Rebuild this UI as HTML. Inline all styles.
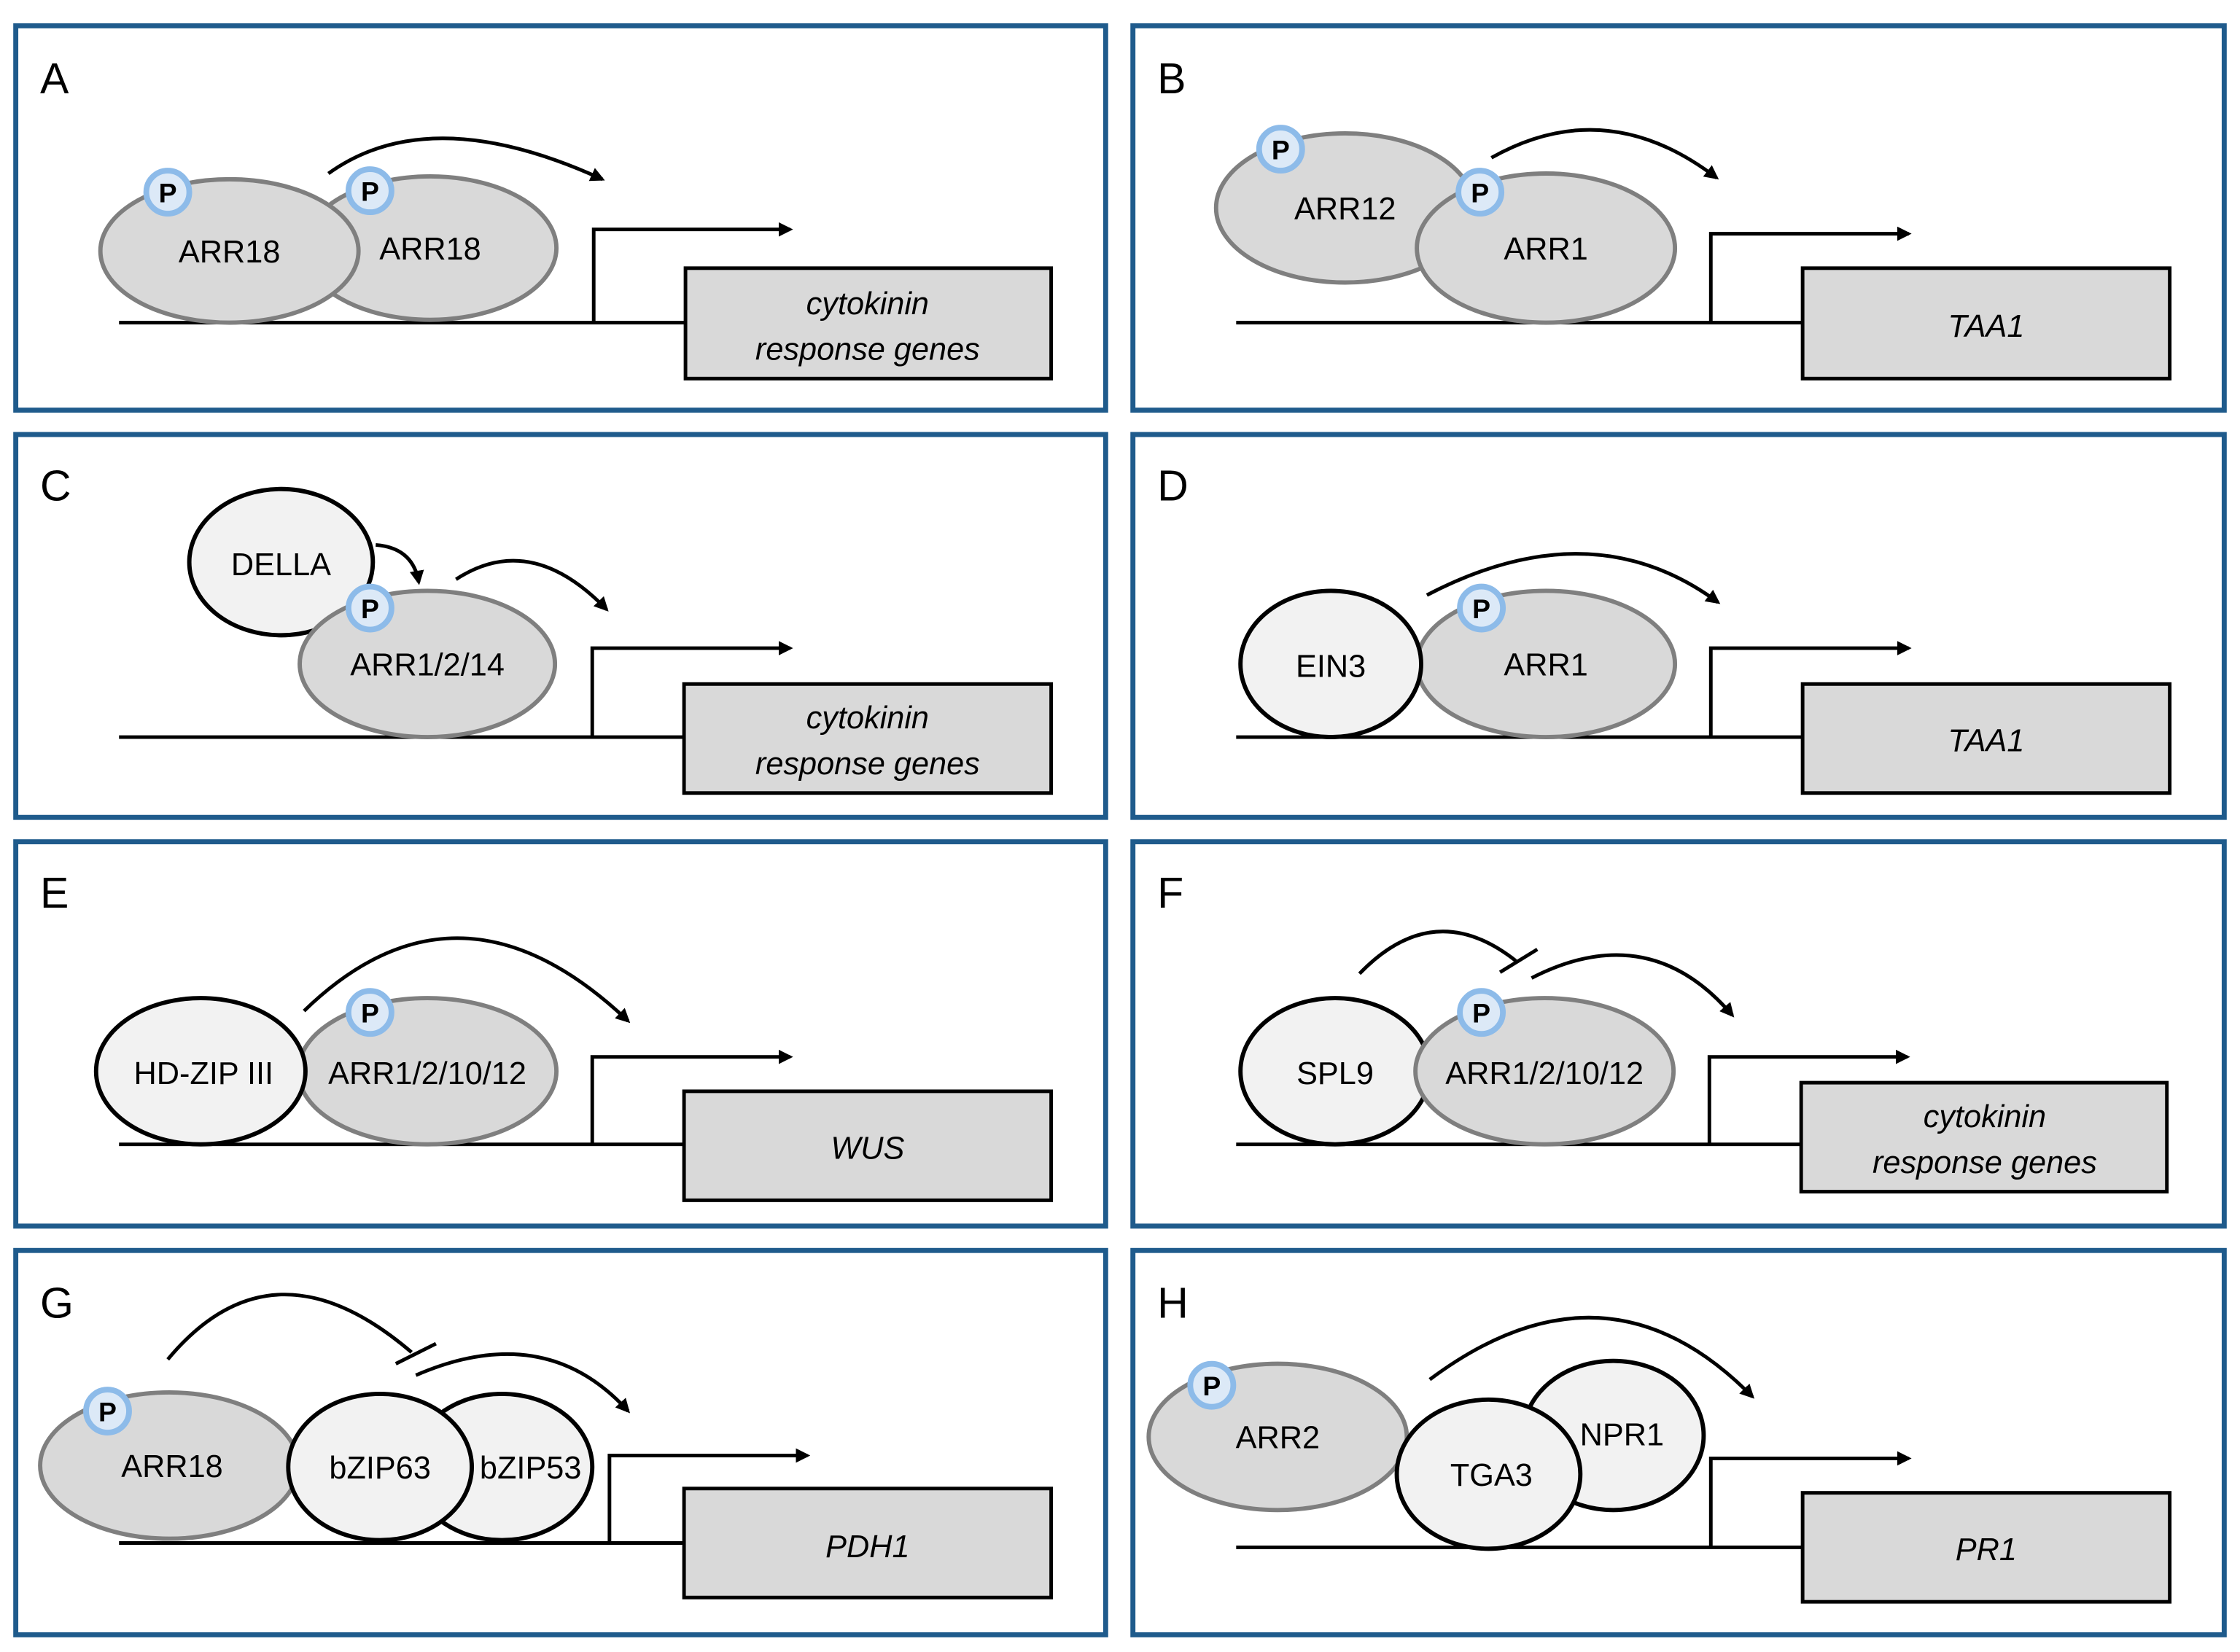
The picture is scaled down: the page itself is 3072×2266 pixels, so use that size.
<!DOCTYPE html>
<html><head><meta charset="utf-8">
<style>html,body{margin:0;padding:0;background:#fff}svg{display:block}</style></head>
<body>
<svg width="3072" height="2266" viewBox="0 0 1562 1152" preserveAspectRatio="none" xmlns="http://www.w3.org/2000/svg" font-family="Liberation Sans, sans-serif">
<defs>
<marker id="ah" markerWidth="10" markerHeight="10" refX="8" refY="5" orient="auto" markerUnits="userSpaceOnUse" viewBox="0 0 10 10">
<path d="M0,0 L10,5 L0,10 z" fill="#000"/></marker>
<g id="P"><circle r="15" fill="#dce9f7" stroke="#8dbbe9" stroke-width="4"/><text y="7" text-anchor="middle" font-size="19" font-weight="bold">P</text></g>
</defs>
<style>
.pn{fill:none;stroke:#1f5b8c;stroke-width:3.5}
.g{fill:#d9d9d9;stroke:#7f7f7f;stroke-width:3}
.l{fill:#f2f2f2;stroke:#000;stroke-width:3}
.ln{fill:none;stroke:#000;stroke-width:2.5}
.box{fill:#d9d9d9;stroke:#000;stroke-width:2.5}
.t{font-size:22px;text-anchor:middle}
.it{font-size:22px;text-anchor:middle;font-style:italic}
.lt{font-size:30px}
</style>
<!-- panels -->
<rect class="pn" x="11" y="18" width="760" height="268"/>
<rect class="pn" x="790" y="18" width="761" height="268"/>
<rect class="pn" x="11" y="303" width="760" height="267"/>
<rect class="pn" x="790" y="303" width="761" height="267"/>
<rect class="pn" x="11" y="587" width="760" height="268"/>
<rect class="pn" x="790" y="587" width="761" height="268"/>
<rect class="pn" x="11" y="872" width="760" height="268"/>
<rect class="pn" x="790" y="872" width="761" height="268"/>
<text class="lt" x="28" y="65">A</text><text class="lt" x="807" y="65">B</text>
<text class="lt" x="28" y="349">C</text><text class="lt" x="807" y="349">D</text>
<text class="lt" x="28" y="633">E</text><text class="lt" x="807" y="633">F</text>
<text class="lt" x="28" y="919">G</text><text class="lt" x="807" y="919">H</text>

<!-- A -->
<path class="ln" d="M83,225 H478"/>
<path class="ln" d="M414,225 V160 H551" marker-end="url(#ah)"/>
<rect class="box" x="478" y="187" width="255" height="77"/>
<text class="it" x="605" y="219">cytokinin</text><text class="it" x="605" y="251">response genes</text>
<ellipse class="g" cx="300" cy="173" rx="88" ry="50"/>
<ellipse class="g" cx="160" cy="175" rx="90" ry="50"/>
<text class="t" x="160" y="183">ARR18</text><text class="t" x="300" y="181">ARR18</text>
<use href="#P" x="117" y="134"/><use href="#P" x="258" y="133"/>
<path class="ln" d="M229,121 Q300,70 420,125" marker-end="url(#ah)"/>

<!-- B -->
<path class="ln" d="M862,225 H1257"/>
<path class="ln" d="M1193,225 V163 H1331" marker-end="url(#ah)"/>
<rect class="box" x="1257" y="187" width="256" height="77"/>
<text class="it" x="1385" y="235">TAA1</text>
<ellipse class="g" cx="938" cy="145" rx="90" ry="52"/>
<ellipse class="g" cx="1078" cy="173" rx="90" ry="52"/>
<text class="t" x="938" y="153">ARR12</text><text class="t" x="1078" y="181">ARR1</text>
<use href="#P" x="893" y="104"/><use href="#P" x="1032" y="134"/>
<path class="ln" d="M1040,110 Q1120,65 1197,124" marker-end="url(#ah)"/>

<!-- C -->
<path class="ln" d="M83,514 H477"/>
<path class="ln" d="M413,514 V452 H551" marker-end="url(#ah)"/>
<rect class="box" x="477" y="477" width="256" height="76"/>
<text class="it" x="605" y="508">cytokinin</text><text class="it" x="605" y="540">response genes</text>
<ellipse class="l" cx="196" cy="392" rx="64" ry="51"/>
<text class="t" x="196" y="401" font-size="25">DELLA</text>
<ellipse class="g" cx="298" cy="463" rx="89" ry="51"/>
<text class="t" x="298" y="471">ARR1/2/14</text>
<use href="#P" x="258" y="424"/>
<path class="ln" d="M262,380 Q288,382 292,406" marker-end="url(#ah)"/>
<path class="ln" d="M318,404 Q370,370 423,425" marker-end="url(#ah)"/>

<!-- D -->
<path class="ln" d="M862,514 H1257"/>
<path class="ln" d="M1193,514 V452 H1331" marker-end="url(#ah)"/>
<rect class="box" x="1257" y="477" width="256" height="76"/>
<text class="it" x="1385" y="524">TAA1</text>
<ellipse class="g" cx="1078" cy="463" rx="90" ry="51"/>
<ellipse class="l" cx="928" cy="463" rx="63" ry="51"/>
<text class="t" x="928" y="472" font-size="25">EIN3</text>
<text class="t" x="1078" y="471">ARR1</text>
<use href="#P" x="1033" y="424"/>
<path class="ln" d="M995,415 Q1110,355 1198,420" marker-end="url(#ah)"/>

<!-- E -->
<path class="ln" d="M83,798 H477"/>
<path class="ln" d="M413,798 V737 H551" marker-end="url(#ah)"/>
<rect class="box" x="477" y="761" width="256" height="76"/>
<text class="it" x="605" y="808">WUS</text>
<ellipse class="g" cx="298" cy="747" rx="90" ry="51"/>
<ellipse class="l" cx="140" cy="747" rx="73" ry="51"/>
<text class="t" x="142" y="756" font-size="25">HD-ZIP III</text>
<text class="t" x="298" y="756">ARR1/2/10/12</text>
<use href="#P" x="258" y="706"/>
<path class="ln" d="M212,705 Q320,600 438,712" marker-end="url(#ah)"/>

<!-- F -->
<path class="ln" d="M862,798 H1256"/>
<path class="ln" d="M1192,798 V737 H1330" marker-end="url(#ah)"/>
<rect class="box" x="1256" y="755" width="255" height="76"/>
<text class="it" x="1384" y="786">cytokinin</text><text class="it" x="1384" y="818">response genes</text>
<ellipse class="l" cx="931" cy="747" rx="66" ry="51"/>
<ellipse class="g" cx="1077" cy="747" rx="90" ry="51"/>
<text class="t" x="931" y="756" font-size="25">SPL9</text>
<text class="t" x="1077" y="756">ARR1/2/10/12</text>
<use href="#P" x="1033" y="706"/>
<path class="ln" d="M948,679 Q1000,625 1057,670"/>
<path class="ln" d="M1046,678 L1072,662"/>
<path class="ln" d="M1068,682 Q1150,640 1208,708" marker-end="url(#ah)"/>

<!-- G -->
<path class="ln" d="M83,1076 H477"/>
<path class="ln" d="M425,1076 V1015 H563" marker-end="url(#ah)"/>
<rect class="box" x="477" y="1038" width="256" height="76"/>
<text class="it" x="605" y="1086">PDH1</text>
<ellipse class="g" cx="118" cy="1022" rx="90" ry="51"/>
<ellipse class="l" cx="350" cy="1023" rx="63" ry="51"/>
<ellipse class="l" cx="265" cy="1023" rx="64" ry="51"/>
<text class="t" x="120" y="1030">ARR18</text>
<text class="t" x="265" y="1031">bZIP63</text>
<text class="t" x="370" y="1031">bZIP53</text>
<use href="#P" x="75" y="984"/>
<path class="ln" d="M117,948 Q190,860 287,943"/>
<path class="ln" d="M276,951 L304,937"/>
<path class="ln" d="M290,959 Q380,920 438,984" marker-end="url(#ah)"/>

<!-- H -->
<path class="ln" d="M862,1079 H1257"/>
<path class="ln" d="M1193,1079 V1017 H1331" marker-end="url(#ah)"/>
<rect class="box" x="1257" y="1041" width="256" height="76"/>
<text class="it" x="1385" y="1088">PR1</text>
<ellipse class="g" cx="891" cy="1002" rx="90" ry="51"/>
<ellipse class="l" cx="1125" cy="1001" rx="63" ry="52"/>
<ellipse class="l" cx="1038" cy="1028" rx="64" ry="52"/>
<text class="t" x="891" y="1010">ARR2</text>
<text class="t" x="1131" y="1008">NPR1</text>
<text class="t" x="1040" y="1036">TGA3</text>
<use href="#P" x="845" y="966"/>
<path class="ln" d="M997,962 Q1120,870 1222,974" marker-end="url(#ah)"/>
</svg>
</body></html>
